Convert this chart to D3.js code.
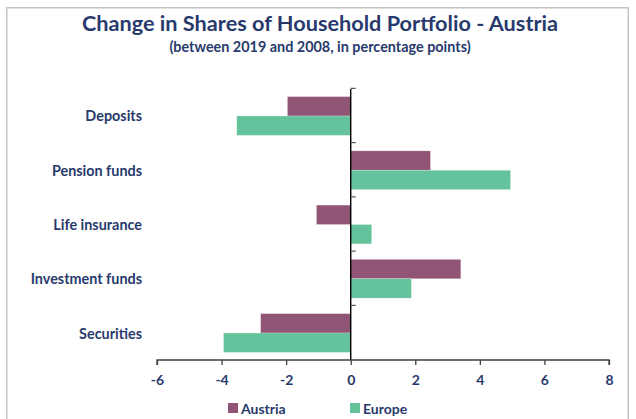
<!DOCTYPE html>
<html><head><meta charset="utf-8">
<script src="https://cdn.jsdelivr.net/npm/d3@7"></script>
<style>html,body{margin:0;padding:0;background:#fff;}</style>
</head><body>
<div id="chart"></div>
<script>
const categories = ["Deposits", "Pension funds", "Life insurance", "Investment funds", "Securities"];
const seriesNames = ["Austria", "Europe"];
const austria = [-1.96, 2.47, -1.06, 3.41, -2.79];
const europe = [-3.53, 4.95, 0.65, 1.88, -3.94];
const xTicks = [-6, -4, -2, 0, 2, 4, 6, 8];
const colors = ["#905474", "#64c39c"];
const textColor = "#283a6c";
const font = "Lato, 'Open Sans', sans-serif";

const W = 636, H = 419;
const svg = d3.select("#chart").append("svg").attr("width", W).attr("height", H);

// frame
svg.append("path").attr("d", "M6.75,430 V7.75 H628.25 V430")
  .attr("fill", "none").attr("stroke", "#c4c4c4").attr("stroke-width", 1.5);

svg.append("text").attr("x", 320).attr("y", 31).attr("text-anchor", "middle")
  .attr("font-family", font).attr("font-weight", "bold").attr("font-size", 21.7)
  .attr("fill", textColor).text("Change in Shares of Household Portfolio - Austria");
svg.append("text").attr("x", 320).attr("y", 52).attr("text-anchor", "middle")
  .attr("font-family", font).attr("font-weight", "bold").attr("font-size", 14.4)
  .attr("fill", textColor).text("(between 2019 and 2008, in percentage points)");

const x = d3.scaleLinear().domain([-6, 8]).range([157, 609]);
const y = d3.scaleBand().domain(categories).range([89, 360]).paddingInner(0.285).paddingOuter(0.14);
const ySub = d3.scaleBand().domain(seriesNames).range([0, y.bandwidth()]);

const data = categories.map((c, i) => ({cat: c, vals: [austria[i], europe[i]]}));

const g = svg.append("g");
data.forEach(d => {
  d.vals.forEach((v, j) => {
    g.append("rect")
      .attr("x", x(Math.min(0, v)))
      .attr("width", Math.abs(x(v) - x(0)))
      .attr("y", y(d.cat) + ySub(seriesNames[j]))
      .attr("height", ySub.bandwidth())
      .attr("fill", colors[j])
      .attr("stroke", "#ffffff").attr("stroke-opacity", 0.4).attr("stroke-width", 0.6);
  });
});

// x axis
const xAxis = svg.append("g").attr("transform", "translate(0,360)")
  .call(d3.axisBottom(x).tickValues(xTicks).tickSize(5).tickPadding(10).tickFormat(d3.format("d")));
xAxis.select(".domain").attr("stroke", "#404040").attr("stroke-width", 1.3)
  .attr("d", "M157,5V0H609V5");
xAxis.selectAll(".tick line").attr("stroke", "#404040").attr("stroke-width", 1.3);
xAxis.selectAll("text").attr("font-family", font).attr("font-weight", "bold")
  .attr("font-size", 14).attr("fill", textColor).text(d => d < 0 ? "-" + Math.abs(d) : d);

// y axis (at x=0)
const yTickPos = categories.map(c => y(c) - y.step() * y.paddingInner() / 2 - 0.5);
svg.append("line").attr("x1", x(0)).attr("x2", x(0)).attr("y1", 89).attr("y2", 360)
  .attr("stroke", "#000").attr("stroke-width", 1.4);
svg.selectAll(".ytick").data(yTickPos).enter().append("line")
  .attr("x1", x(0)).attr("x2", x(0) + 5).attr("y1", d => d).attr("y2", d => d)
  .attr("stroke", "#555").attr("stroke-width", 1.2);

// category labels
svg.selectAll(".cat").data(categories).enter().append("text")
  .attr("x", 142).attr("y", c => y(c) + y.bandwidth() / 2)
  .attr("text-anchor", "end").attr("dominant-baseline", "central")
  .attr("font-family", font).attr("font-weight", "bold").attr("font-size", 14.4)
  .attr("fill", textColor).text(c => c);

// legend
const legX = [228, 350];
seriesNames.forEach((s, i) => {
  svg.append("rect").attr("x", legX[i]).attr("y", 403).attr("width", 10).attr("height", 10).attr("fill", colors[i]);
  svg.append("text").attr("x", legX[i] + 13).attr("y", 408).attr("dominant-baseline", "central")
    .attr("font-family", font).attr("font-weight", "bold").attr("font-size", 14)
    .attr("fill", textColor).text(s);
});
</script>
</body></html>
